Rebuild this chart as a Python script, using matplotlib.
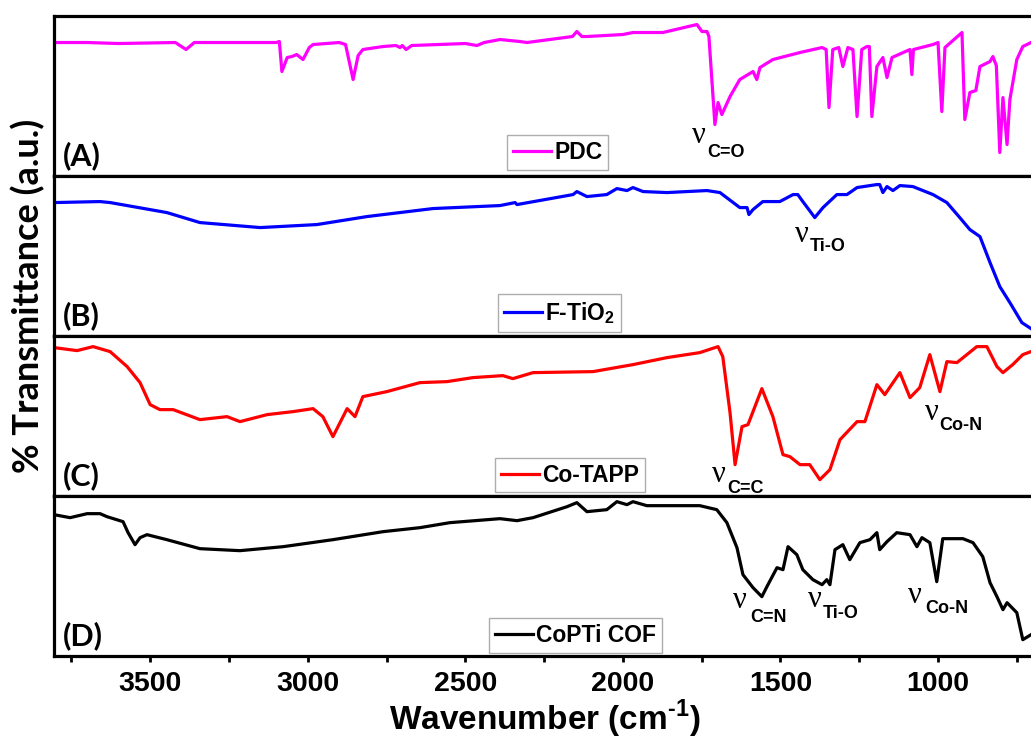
import matplotlib.pyplot as plt
from matplotlib.ticker import MultipleLocator

plt.rcParams['font.family'] = ['Liberation Sans', 'DejaVu Sans']
plt.rcParams['font.weight'] = 'bold'
plt.rcParams['mathtext.fontset'] = 'custom'
plt.rcParams['mathtext.rm'] = 'Liberation Sans:bold'
plt.rcParams['mathtext.bf'] = 'Liberation Sans:bold'

# spectra (wavenumber, transmittance in a.u. per panel)
pdc_wn = [3805, 3700, 3600, 3420, 3386, 3360, 3100, 3090, 3082, 3065, 3050, 3035, 3015, 2995, 2983,
          2900, 2880, 2856, 2840, 2825, 2761, 2720, 2707, 2700, 2688, 2670, 2500, 2463, 2440, 2390,
          2327, 2304, 2160, 2146, 2130, 2114, 2000, 1968, 1873, 1765, 1749, 1733, 1727, 1708, 1698,
          1686, 1660, 1629, 1587, 1575, 1565, 1524, 1438, 1368, 1355, 1346, 1334, 1315, 1302, 1286,
          1270, 1257, 1242, 1226, 1218, 1210, 1194, 1175, 1162, 1146, 1089, 1083, 1078, 1016, 1000,
          988, 978, 924, 915, 899, 880, 867, 835, 826, 815, 804, 794, 781, 772, 750, 731, 705]
pdc_t = [133, 133, 132, 133, 126, 133, 133, 134, 104, 118, 119, 121, 116, 128, 131,
         133, 131, 96, 120, 126, 129, 130, 128, 130, 126, 130, 132, 130, 133, 136,
         134, 133, 139, 144, 139, 139, 141, 143, 143, 151, 144, 144, 139, 51, 73,
         61, 79, 96, 104, 96, 108, 116, 123, 128, 126, 68, 126, 128, 109, 128,
         126, 59, 126, 129, 129, 59, 109, 118, 98, 118, 126, 101, 126, 131, 133,
         64, 128, 143, 56, 83, 85, 109, 114, 119, 110, 23, 78, 31, 76, 116, 129, 133]

tio2_wn = [3805, 3659, 3627, 3447, 3342, 3151, 2971, 2812, 2603, 2390, 2342, 2336, 2158, 2146, 2114,
           2051, 2019, 1987, 1968, 1936, 1860, 1733, 1692, 1629, 1606, 1600, 1587, 1556, 1502, 1460,
           1445, 1429, 1391, 1365, 1321, 1289, 1257, 1194, 1185, 1175, 1162, 1143, 1121, 1080, 1016,
           972, 931, 899, 867, 835, 804, 772, 734, 705]
tio2_t = [133, 134, 133, 123, 113, 108, 111, 119, 127, 130, 133, 131, 141, 144, 139,
          141, 147, 145, 148, 144, 143, 145, 143, 128, 128, 121, 126, 134, 134, 141,
          141, 134, 118, 128, 141, 141, 148, 151, 151, 143, 149, 145, 150, 149, 141,
          133, 118, 106, 99, 73, 49, 33, 13, 7]

tapp_wn = [3805, 3732, 3681, 3627, 3573, 3532, 3500, 3469, 3427, 3342, 3256, 3215, 3129, 3047, 2983,
           2952, 2920, 2875, 2850, 2825, 2749, 2644, 2558, 2476, 2381, 2349, 2285, 2095, 1968, 1860,
           1756, 1698, 1683, 1660, 1644, 1622, 1603, 1559, 1524, 1492, 1470, 1438, 1407, 1375, 1343,
           1311, 1257, 1232, 1194, 1169, 1121, 1089, 1058, 1026, 994, 972, 940, 877, 845, 813,
           794, 763, 731, 705]
tapp_t = [148, 145, 149, 144, 129, 113, 91, 86, 86, 76, 79, 74, 81, 84, 87,
          79, 59, 87, 79, 99, 104, 113, 114, 118, 120, 117, 123, 124, 131, 138,
          143, 149, 139, 83, 31, 69, 71, 107, 79, 41, 39, 31, 31, 16, 26,
          56, 74, 74, 111, 101, 123, 98, 108, 141, 104, 134, 133, 149, 149, 129,
          123, 131, 141, 144]

cof_wn = [3805, 3754, 3700, 3659, 3637, 3586, 3570, 3548, 3532, 3510, 3447, 3342, 3215, 3078, 2920,
          2761, 2644, 2549, 2390, 2336, 2285, 2177, 2146, 2114, 2051, 2019, 1987, 1968, 1924, 1756,
          1702, 1670, 1638, 1619, 1587, 1559, 1543, 1511, 1492, 1476, 1448, 1429, 1397, 1368, 1353,
          1343, 1327, 1302, 1280, 1248, 1216, 1194, 1185, 1162, 1131, 1089, 1067, 1051, 1026, 1004,
          985, 921, 889, 858, 835, 813, 794, 781, 750, 731, 705]
cof_t = [141, 138, 142, 142, 139, 134, 123, 111, 118, 121, 116, 107, 105, 109, 116,
         124, 128, 133, 137, 135, 138, 149, 153, 144, 146, 154, 151, 154, 150, 150,
         146, 133, 108, 81, 68, 59, 69, 88, 86, 109, 101, 86, 76, 71, 76,
         71, 106, 111, 96, 113, 116, 123, 106, 114, 123, 121, 109, 118, 113, 74,
         117, 117, 113, 99, 73, 59, 46, 53, 43, 16, 21]

names = ["PDC", "F-TiO$_\\mathbf{2}$", "Co-TAPP", "CoPTi COF"]
colors = ["#ff00ff", "#0000ff", "#ff0000", "#000000"]
tags = ["(A)", "(B)", "(C)", "(D)"]
legend_x = [0.4637, 0.4545, 0.4514, 0.4452]
legend_y = [0.035, 0.025, 0.02, 0.02]

# band labels: (panel, wavenumber, a.u., subscript, dx px, dy px)
bands = [
    (0, 1781, 33, "C=O", 15, -14),
    (1, 1454, 94, "Ti-O", 15, -9),
    (2, 1717, 14, "C=C", 15, -11),
    (2, 1042, 76, "Co-N", 14, -10),
    (3, 1651, 48, "C=N", 17, -14),
    (3, 1413, 49, "Ti-O", 15, -11),
    (3, 1096, 53, "Co-N", 17, -10),
]

xs = [pdc_wn, tio2_wn, tapp_wn, cof_wn]
ys = [pdc_t, tio2_t, tapp_t, cof_t]

fig = plt.figure(figsize=(10.31, 7.42), dpi=100)
axes = []
for i in range(4):
    ax = fig.add_axes([0.0524, 0.1163 + (3 - i) * 0.2157, 0.9476, 0.2157])
    ax.plot(xs[i], ys[i], color=colors[i], lw=2.3, label=names[i], solid_joinstyle='round')
    ax.set_xlim(3805, 705)
    ax.set_ylim(0, 160)
    ax.set_yticks([])
    for s in ['top', 'bottom', 'left']:
        ax.spines[s].set_linewidth(2.3)
    ax.spines['right'].set_visible(False)
    ax.text(0.009, 0.035, tags[i], transform=ax.transAxes, fontsize=22,
            family=['Lato', 'DejaVu Sans'], fontweight='bold', ha='left', va='bottom')
    leg = ax.legend(loc='lower left', bbox_to_anchor=(legend_x[i], legend_y[i]),
                    borderaxespad=0, fontsize=16.5, frameon=True, fancybox=False,
                    handlelength=1.65, handletextpad=0.15, borderpad=0.25)
    leg.get_frame().set_edgecolor('#999999')
    leg.get_frame().set_linewidth(1.0)
    if i < 3:
        ax.tick_params(axis='x', which='both', bottom=False, labelbottom=False)
    axes.append(ax)

for p, wn, t, sub, dx, dy in bands:
    ax = axes[p]
    ax.text(wn, t, "ν", fontsize=22, family=['Liberation Serif', 'DejaVu Serif'],
            fontweight='normal', ha='left', va='baseline')
    ax.annotate(sub, xy=(wn, t), xytext=(dx, dy), textcoords='offset pixels',
                fontsize=13, fontweight='bold', ha='left', va='baseline')

bot = axes[3]
bot.xaxis.set_major_locator(MultipleLocator(500))
bot.xaxis.set_minor_locator(MultipleLocator(250))
bot.tick_params(axis='x', which='both', direction='out', length=4, width=2, pad=7,
                labelsize=20.5)
for lab in bot.get_xticklabels():
    lab.set_fontweight('bold')

fig.text(0.5286, 0.0162, "Wavenumber (cm$^{\\text{-1}}$)", fontsize=24, fontweight='bold',
         ha='center', va='baseline')
fig.text(0.027, 0.601, "% Transmittance (a.u.)", fontsize=26, fontweight='bold',
         family=['Lato', 'DejaVu Sans'], rotation=90, ha='center', va='center')

fig.savefig('out.png', dpi=100)
